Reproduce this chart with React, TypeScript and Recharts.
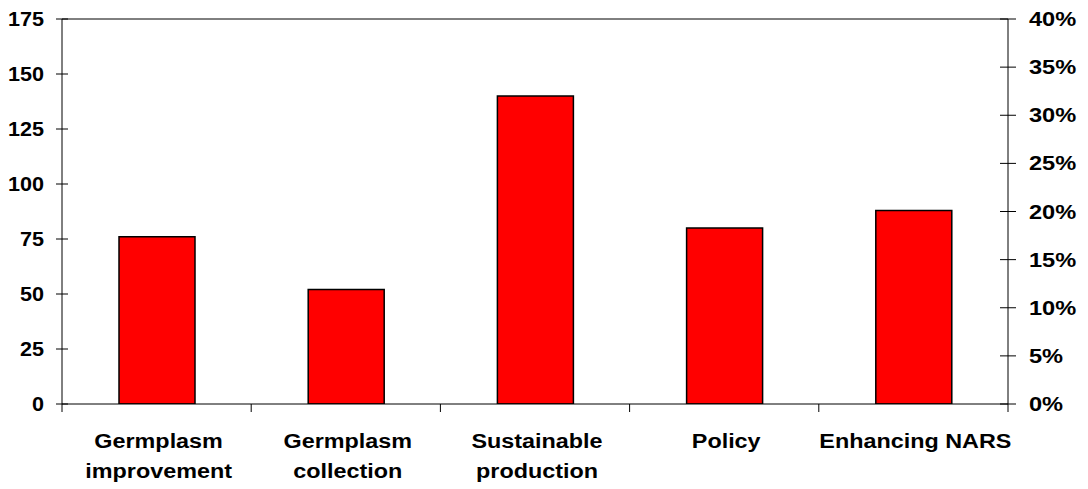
import { ComposedChart, Bar, Line, XAxis, YAxis, ReferenceLine } from 'recharts';

const categories = ['Germplasm improvement', 'Germplasm collection', 'Sustainable production', 'Policy', 'Enhancing NARS'];
const labelLines = [['Germplasm', 'improvement'], ['Germplasm', 'collection'], ['Sustainable', 'production'], ['Policy'], ['Enhancing NARS']];
const counts = [76, 52, 140, 80, 88];
const leftTicks = [0, 25, 50, 75, 100, 125, 150, 175];
const rightTicks = [0, 0.05, 0.1, 0.15, 0.2, 0.25, 0.3, 0.35, 0.4];

const total = counts.reduce((a, b) => a + b, 0);
const data = categories.map((c, i) => ({ name: c, count: counts[i], share: counts[i] / total }));

const FONT = 'Liberation Sans, Arial, sans-serif';
const BAND = (1008 - 62) / categories.length;

const LeftTick = (props: any) => {
  const { x, y, payload } = props;
  return (
    <g>
      <line x1={x - 6} x2={x + 6} y1={y} y2={y} stroke="#000" strokeWidth={1} />
      <text
        transform={`translate(${x - 18},${y + 7}) scale(1.08,1)`}
        textAnchor="end"
        fontFamily={FONT}
        fontWeight="bold"
        fontSize={20}
        fill="#000"
      >
        {payload.value}
      </text>
    </g>
  );
};

const RightTick = (props: any) => {
  const { x, y, payload } = props;
  return (
    <g>
      <line x1={x - 8} x2={x + 8} y1={y} y2={y} stroke="#000" strokeWidth={1} />
      <text
        transform={`translate(${x + 21},${y + 7}) scale(1.18,1)`}
        textAnchor="start"
        fontFamily={FONT}
        fontWeight="bold"
        fontSize={20}
        fill="#000"
      >
        {Math.round(payload.value * 100) + '%'}
      </text>
    </g>
  );
};

const BottomTick = (props: any) => {
  const { x, y, index } = props;
  const lines: string[] = labelLines[index] || [];
  return (
    <g>
      <line x1={x - BAND / 2} x2={x - BAND / 2} y1={y} y2={y + 8} stroke="#000" strokeWidth={1} />
      {index === categories.length - 1 && (
        <line x1={x + BAND / 2} x2={x + BAND / 2} y1={y} y2={y + 8} stroke="#000" strokeWidth={1} />
      )}
      {lines.map((l, i) => (
        <text
          key={i}
          transform={`translate(${x + 2},${y + 44 + i * 30}) scale(1.14,1)`}
          textAnchor="middle"
          fontFamily={FONT}
          fontWeight="bold"
          fontSize={20.5}
          fill="#000"
        >
          {l}
        </text>
      ))}
    </g>
  );
};

export default function App() {
  return (
    <div style={{ position: 'absolute', left: 0, top: 0, background: '#fff' }}>
      <ComposedChart width={1088} height={489} data={data} margin={{ top: 19, right: 0, left: 0, bottom: 0 }} barCategoryGap={0}>
        <XAxis
          dataKey="name"
          height={85}
          interval={0}
          tick={BottomTick}
          tickLine={false}
          tickSize={0}
          tickMargin={0}
          axisLine={{ stroke: '#000' }}
        />
        <YAxis
          yAxisId="left"
          width={62}
          domain={[0, 175]}
          ticks={leftTicks}
          tick={LeftTick}
          tickLine={false}
          tickSize={0}
          tickMargin={0}
          axisLine={{ stroke: '#000' }}
          allowDataOverflow
        />
        <YAxis
          yAxisId="right"
          orientation="right"
          width={80}
          domain={[0, 0.4]}
          ticks={rightTicks}
          tick={RightTick}
          tickLine={false}
          tickSize={0}
          tickMargin={0}
          axisLine={{ stroke: '#000' }}
          allowDataOverflow
        />
        <ReferenceLine yAxisId="left" y={175} stroke="#000" strokeWidth={1} />
        <Bar
          yAxisId="left"
          dataKey="count"
          fill="#FF0000"
          stroke="#000"
          strokeWidth={1.5}
          barSize={76}
          isAnimationActive={false}
        />
        <Line
          yAxisId="right"
          dataKey="share"
          stroke="none"
          dot={false}
          activeDot={false}
          legendType="none"
          isAnimationActive={false}
        />
      </ComposedChart>
    </div>
  );
}
